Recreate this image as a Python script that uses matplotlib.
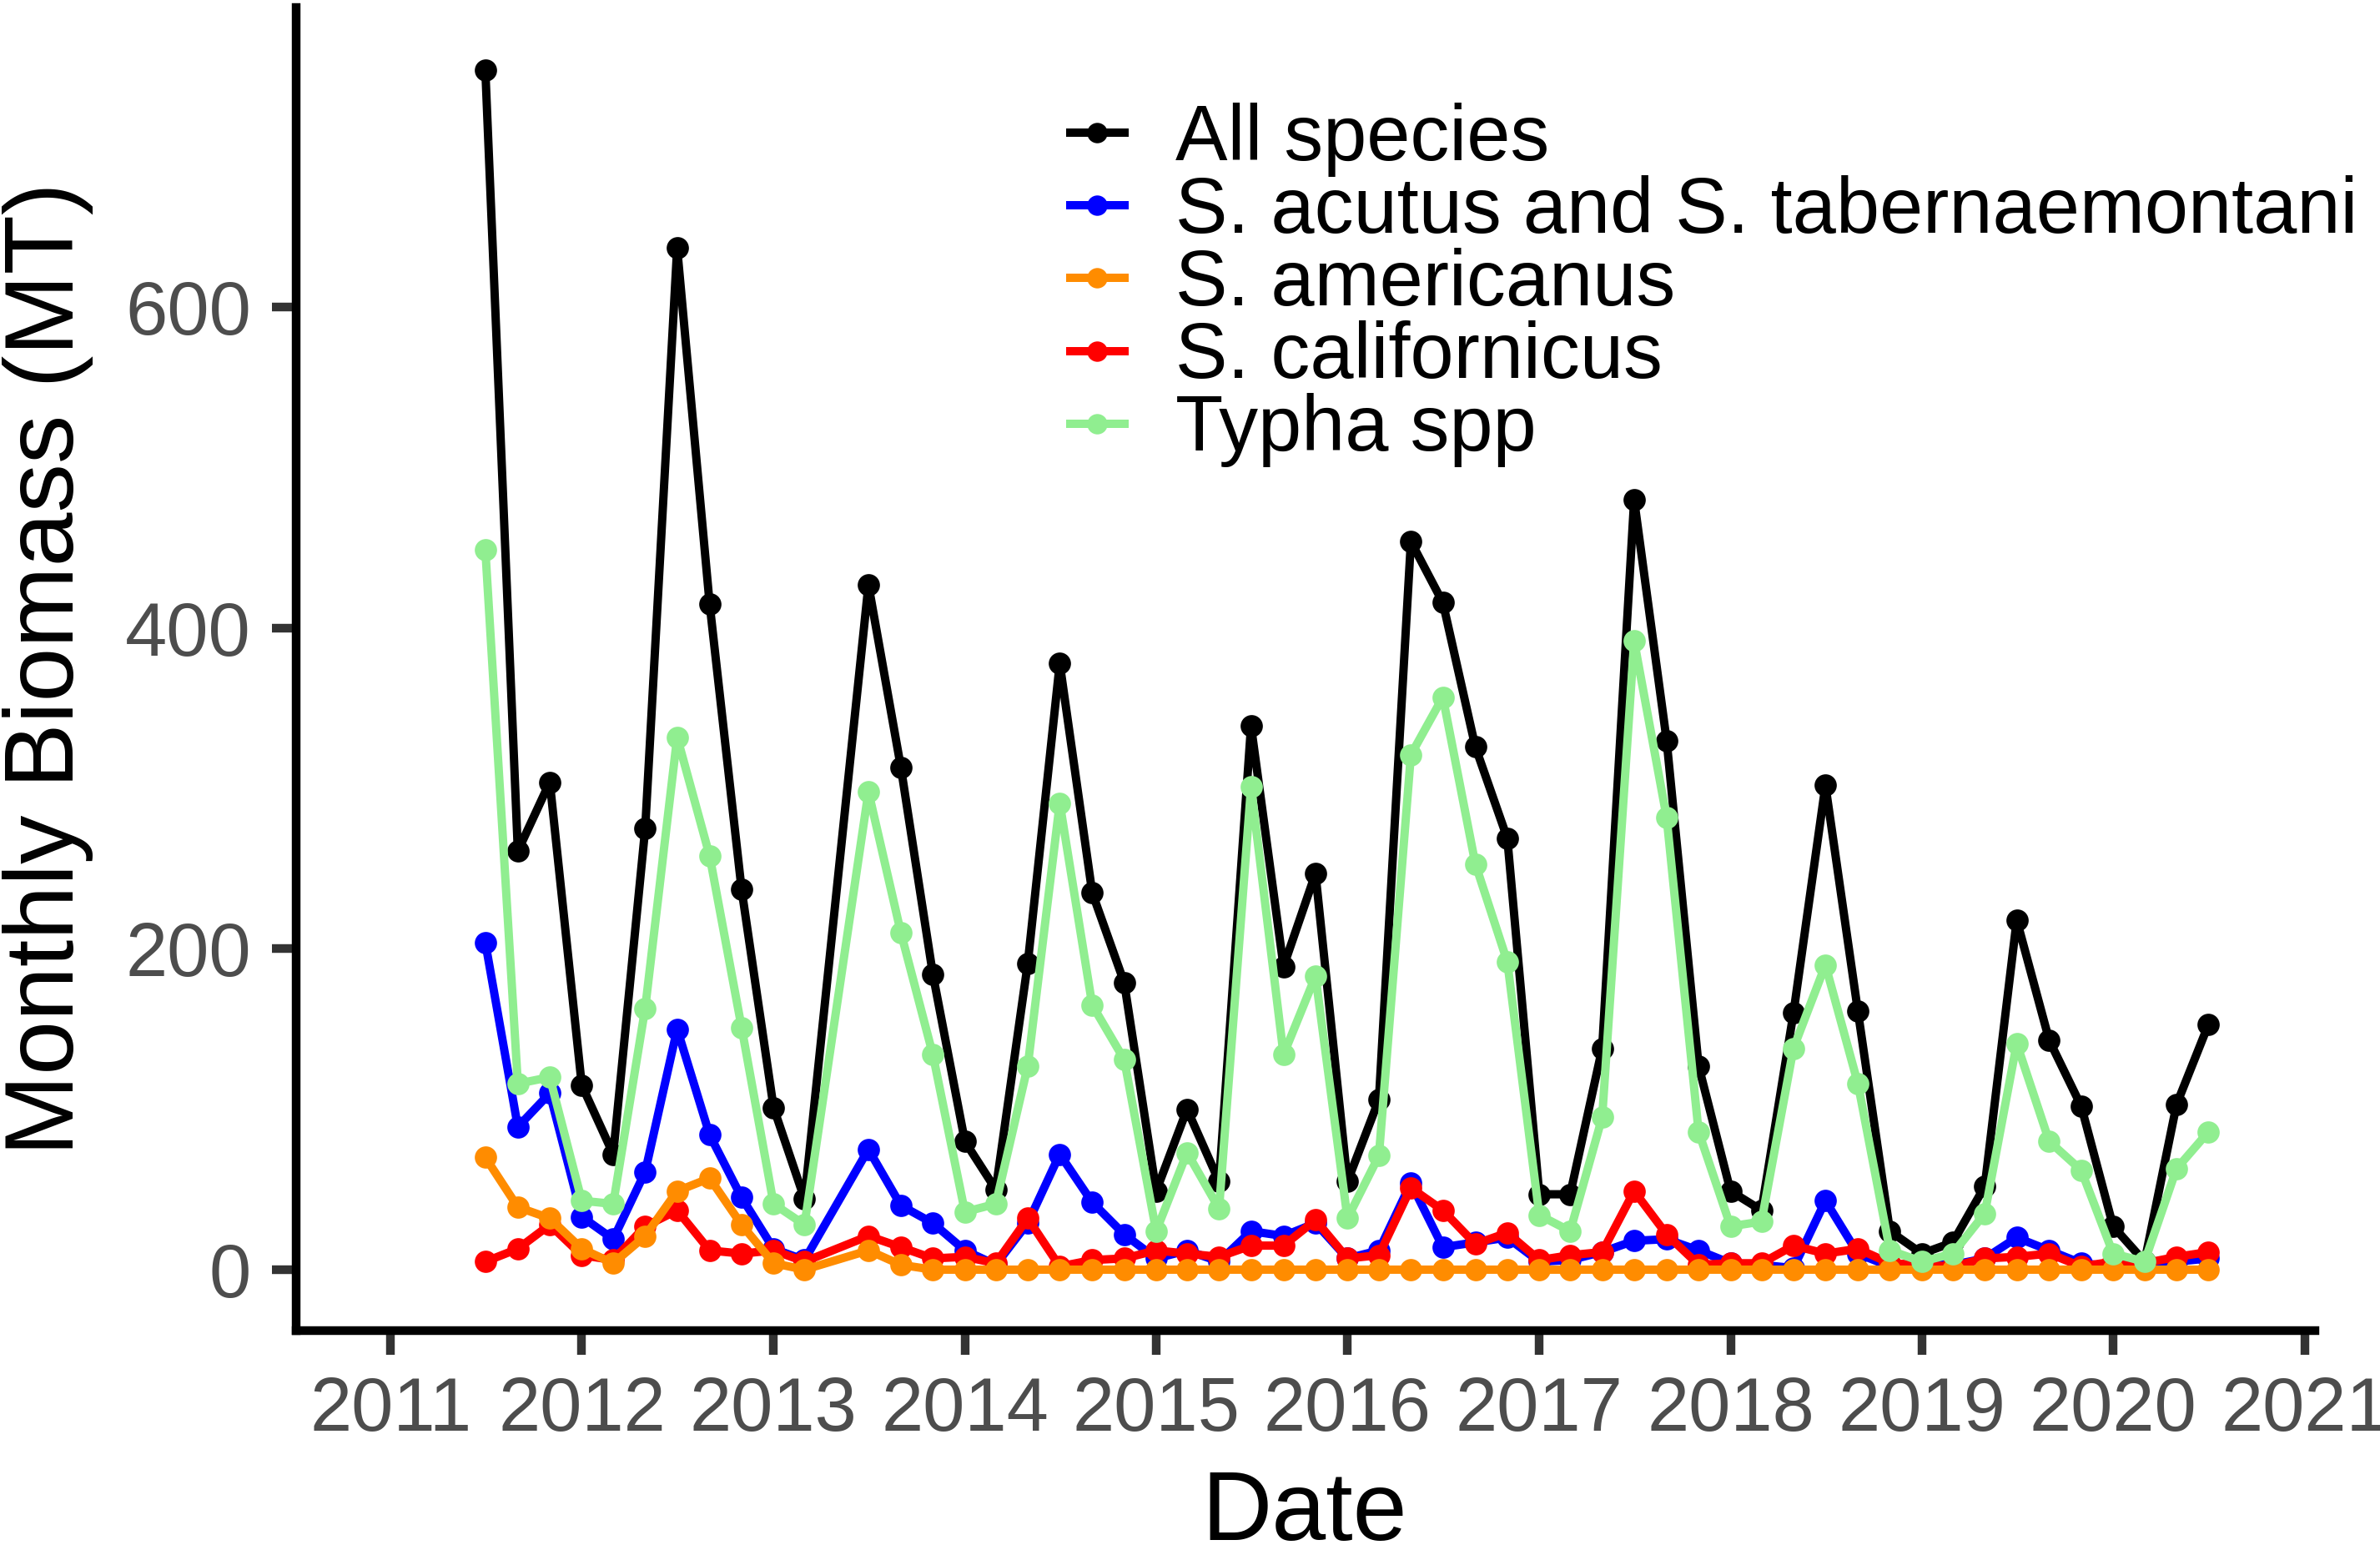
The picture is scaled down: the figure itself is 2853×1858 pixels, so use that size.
import numpy as np
import pandas as pd
import matplotlib
matplotlib.use("Agg")
import matplotlib.pyplot as plt
import matplotlib.dates as mdates

plt.rcParams['font.family'] = ['Liberation Sans', 'DejaVu Sans']

# bimonthly sampling, July 2011 - July 2020 (May 2013 not sampled)
dates = pd.date_range('2011-07-01', '2020-07-01', freq='2MS')
dates = dates[dates != pd.Timestamp('2013-05-01')]

all_species = [748, 261, 304,
               115, 72, 275, 637, 415, 237,
               101, 44, 427, 313, 184,
               80, 50, 191, 378, 235, 179,
               49, 100, 55, 339, 189, 247,
               55, 106, 454, 416, 326, 269,
               47, 47, 138, 480, 330, 127,
               49, 37, 160, 302, 161, 24,
               10, 17, 52, 218, 143, 102,
               27, 5, 103, 153]
acutus_tab = [204, 89, 110,
              33, 19, 61, 150, 84, 45,
              13, 6, 75, 40, 29,
              12, 3, 29, 72, 42, 22,
              7, 12, 5, 24, 21, 29,
              7, 12, 54, 14, 17, 20,
              5, 6, 11, 18, 19, 12,
              4, 3, 1, 43, 10, 2,
              4, 3, 7, 20, 12, 4,
              2, 4, 5, 7]
americanus = [70, 39, 32,
              13, 4, 21, 49, 57, 28,
              4, 0, 12, 3, 0,
              0, 0, 0, 0, 0, 0,
              0, 0, 0, 0, 0, 0,
              0, 0, 0, 0, 0, 0,
              0, 0, 0, 0, 0, 0,
              0, 0, 0, 0, 0, 0,
              0, 0, 0, 0, 0, 0,
              0, 0, 0, 0]
californicus = [5, 13, 28,
                9, 6, 27, 37, 12, 10,
                12, 5, 21, 14, 7,
                8, 4, 32, 2, 6, 7,
                12, 10, 8, 15, 15, 31,
                7, 9, 51, 37, 16, 23,
                6, 9, 11, 49, 22, 3,
                4, 4, 15, 10, 13, 4,
                3, 2, 7, 8, 10, 2,
                5, 4, 8, 11]
typha = [449, 116, 120,
         43, 41, 163, 332, 258, 151,
         41, 28, 298, 210, 134,
         36, 41, 127, 291, 165, 131,
         24, 73, 38, 301, 134, 183,
         32, 71, 321, 357, 253, 192,
         34, 24, 95, 392, 282, 86,
         27, 30, 138, 190, 116, 12,
         5, 10, 35, 141, 80, 62,
         10, 5, 63, 86]

labels = ["All species", "S. acutus and S. tabernaemontani", "S. americanus",
          "S. californicus", "Typha spp"]
series = [all_species, acutus_tab, americanus, californicus, typha]
colors = ["black", "blue", "darkorange", "red", "lightgreen"]
zorders = [2, 3, 5, 4, 6]

fig = plt.figure(figsize=(2853/300, 1858/300), dpi=300)
ax = fig.add_axes([355/2853, 1-1595/1858, (2775-355)/2853, (1595-9)/1858])

for i in range(5):
    ax.plot(dates, series[i], color=colors[i], lw=2.4, marker='o', ms=5.4,
            label=labels[i], zorder=zorders[i])

ax.set_xlim(pd.Timestamp('2010-07-05'), pd.Timestamp('2021-01-20'))
ax.set_ylim(-38, 787)
ax.xaxis.set_major_locator(mdates.YearLocator())
ax.xaxis.set_major_formatter(mdates.DateFormatter('%Y'))
ax.set_yticks([0, 200, 400, 600])

for s in ['top', 'right']:
    ax.spines[s].set_visible(False)
for s in ['left', 'bottom']:
    ax.spines[s].set_linewidth(2.5)
ax.tick_params(length=7, width=2.5, color='#333333', labelcolor='#4D4D4D',
               labelsize=21.7, pad=6)

fig.text(58/2853, 1-802/1858, "Monthly Biomass (MT)", rotation=90,
         ha='center', va='center', fontsize=28)
fig.text(1564/2853, 1-1846/1858, "Date", ha='center', va='baseline', fontsize=28)

fig.legend(loc='upper left', bbox_to_anchor=(1283/2853, 1-123/1858),
           frameon=False, fontsize=22.5, handlelength=0.69, handletextpad=0.65,
           labelspacing=-0.02, borderpad=0, borderaxespad=0, markerscale=0.9)

plt.savefig("out.png", dpi=300)
